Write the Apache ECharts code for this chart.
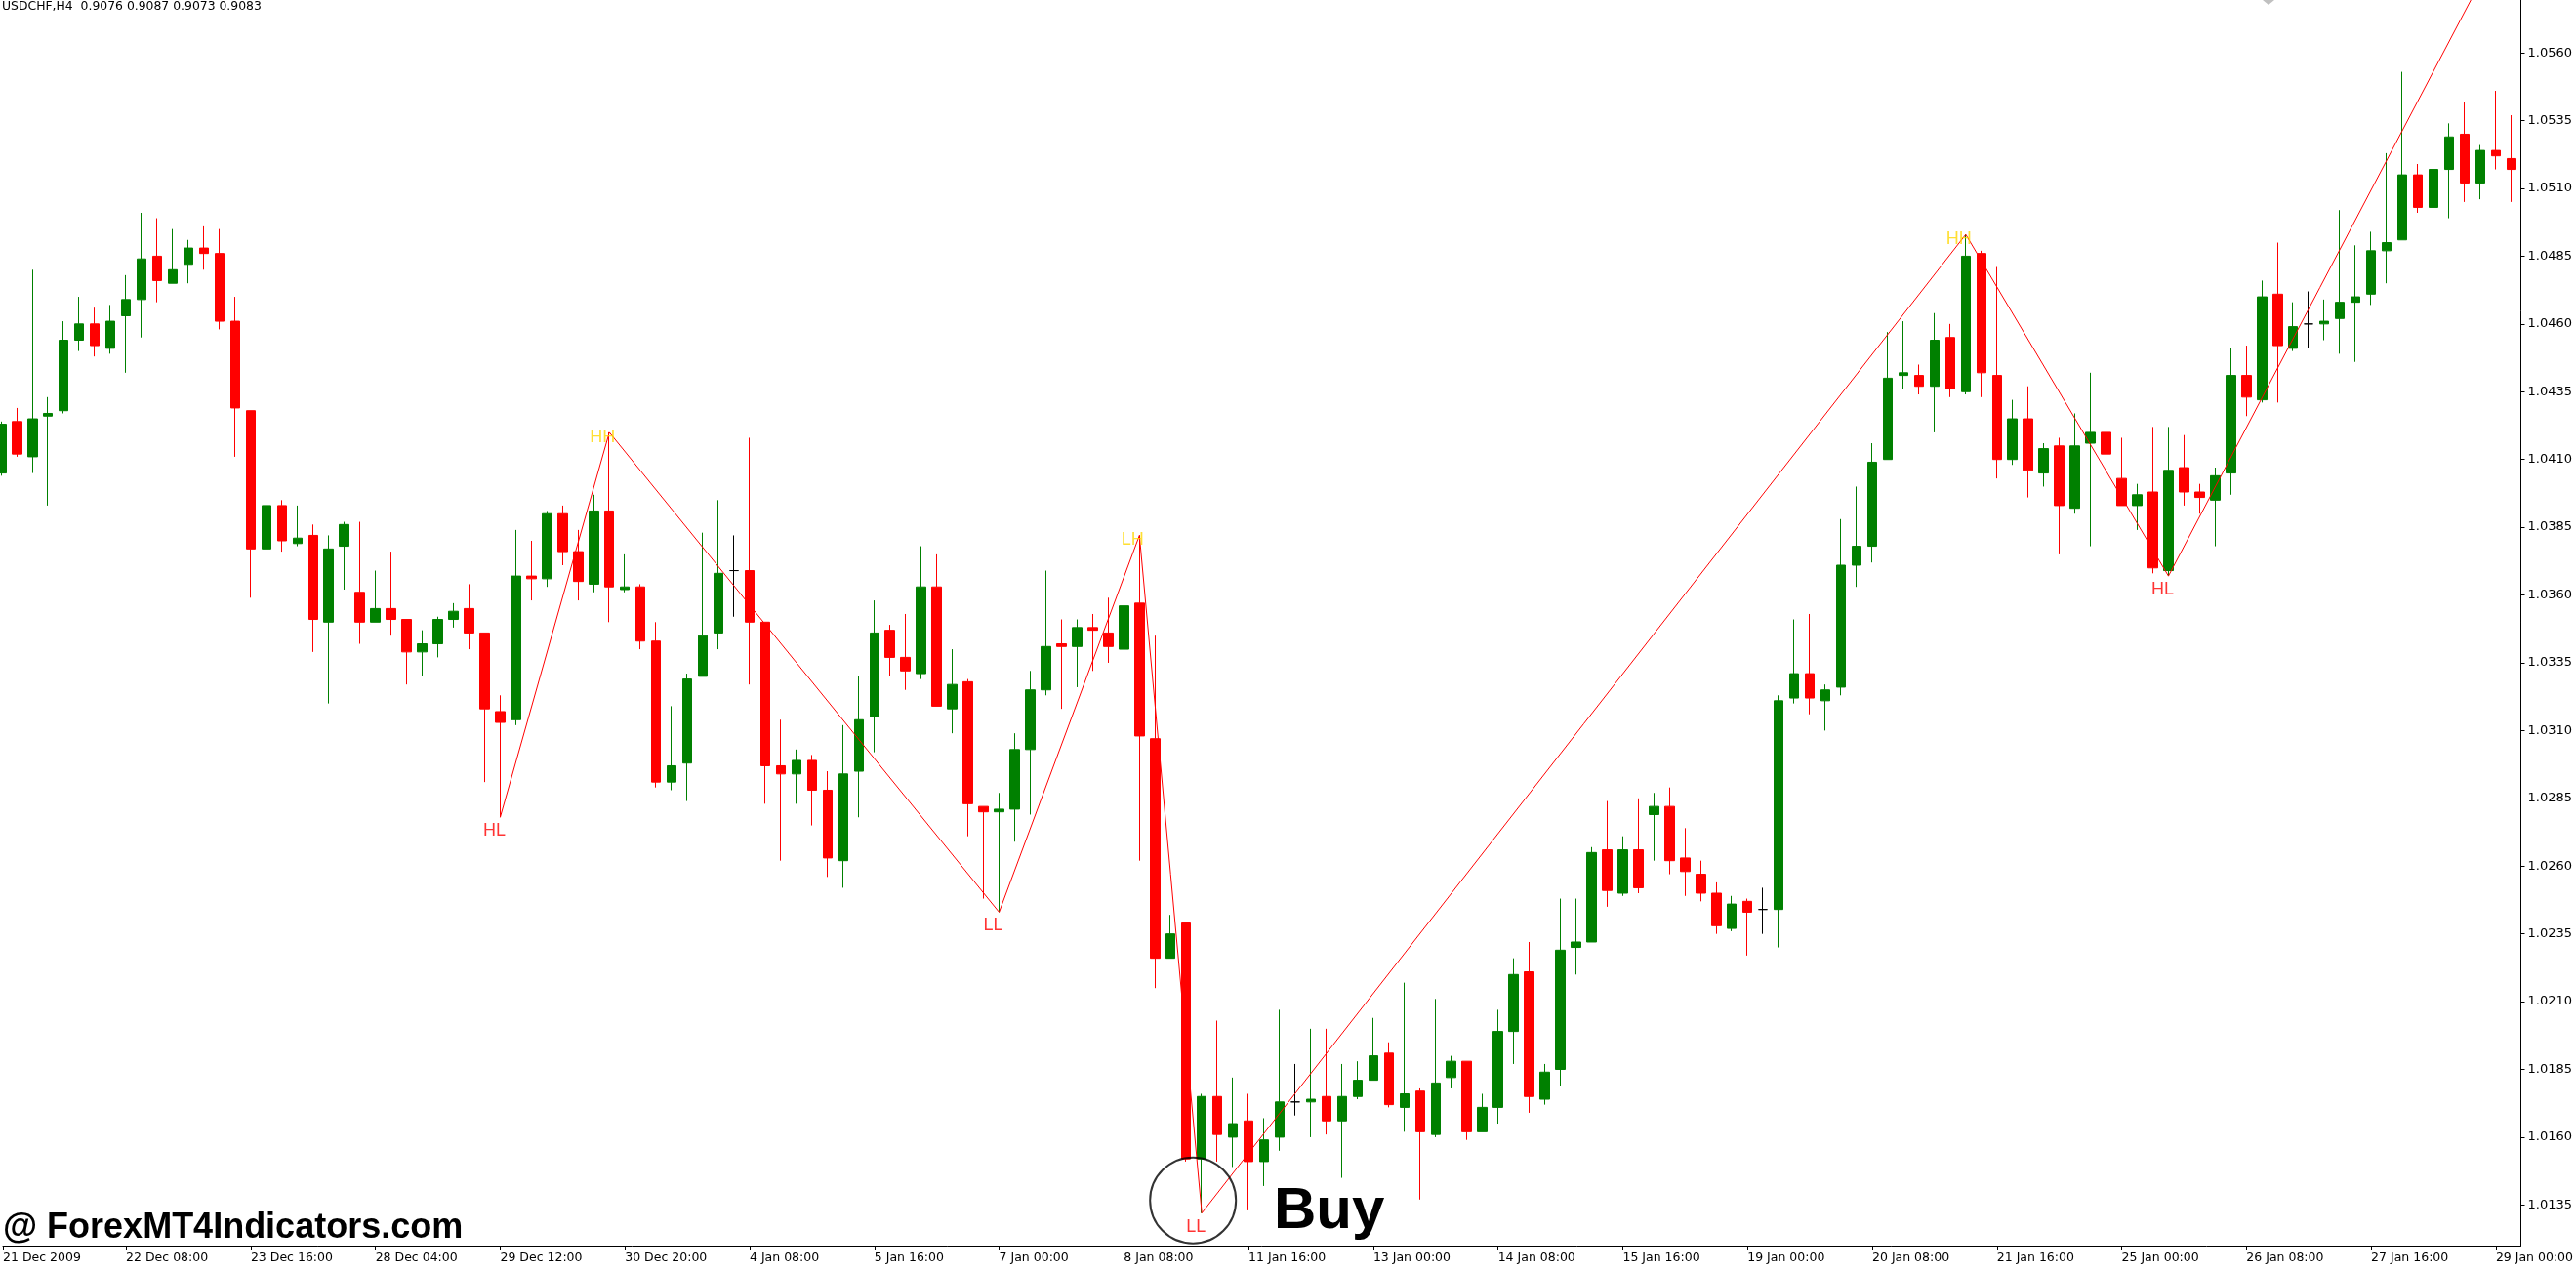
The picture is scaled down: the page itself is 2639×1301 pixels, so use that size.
<!DOCTYPE html>
<html>
<head>
<meta charset="utf-8">
<script src="https://cdn.jsdelivr.net/npm/echarts@6/dist/echarts.min.js"></script>
<style>
html,body{margin:0;padding:0;background:#ffffff;}
#c{width:2639px;height:1301px;}
</style>
</head>
<body>
<div id="c"></div>
<script>
// ---------------- DATA ----------------
const headerText = 'USDCHF,H4  0.9076 0.9087 0.9073 0.9083';
const tickBars = [0,8,16,24,32,40,48,56,64,72,80,88,96,104,112,120,128,136,144,152,160];
const tickLabels = ['21 Dec 2009','22 Dec 08:00','23 Dec 16:00','28 Dec 04:00','29 Dec 12:00','30 Dec 20:00',
  '4 Jan 08:00','5 Jan 16:00','7 Jan 00:00','8 Jan 08:00','11 Jan 16:00','13 Jan 00:00','14 Jan 08:00',
  '15 Jan 16:00','19 Jan 00:00','20 Jan 08:00','21 Jan 16:00','25 Jan 00:00','26 Jan 08:00','27 Jan 16:00','29 Jan 00:00'];
const priceTicks = [1.0135,1.0160,1.0185,1.0210,1.0235,1.0260,1.0285,1.0310,1.0335,1.0360,1.0385,1.0410,1.0435,1.0460,1.0485,1.0510,1.0535,1.0560];

const opens = [
 1.0405,1.0424,1.0411,1.0426,1.0428,1.0454,1.0460,1.0451,1.0463,1.0469,
 1.0485,1.0475,1.0482,1.0488,1.0486,1.0461,1.0428,1.0377,1.0393,1.0379,
 1.0382,1.0350,1.0378,1.0361,1.0350,1.0355,1.0351,1.0339,1.0342,1.0351,
 1.0355,1.0346,1.0317,1.0314,1.0367,1.0366,1.0390,1.0376,1.0364,1.0391,
 1.0362,1.0363,1.0343,1.0291,1.0298,1.0330,1.0346,1.0369,1.0369,1.0350,
 1.0297,1.0294,1.0299,1.0288,1.0262,1.0295,1.0315,1.0347,1.0337,1.0331,
 1.0363,1.0318,1.0328,1.0282,1.0280,1.0281,1.0303,1.0325,1.0342,1.0341,
 1.0348,1.0346,1.0340,1.0357,1.0307,1.0226,1.0239,1.0152,1.0175,1.0160,
 1.0166,1.0151,1.0160,1.0173,1.0173,1.0175,1.0166,1.0175,1.0181,1.0191,
 1.0171,1.0177,1.0161,1.0182,1.0188,1.0162,1.0171,1.0199,1.0221,1.0174,
 1.0185,1.0230,1.0232,1.0266,1.0250,1.0266,1.0279,1.0282,1.0263,1.0257,
 1.0250,1.0237,1.0247,1.0244,1.0244,1.0322,1.0331,1.0321,1.0326,1.0371,
 1.0378,1.0410,1.0441,1.0441,1.0437,1.0455,1.0435,1.0486,1.0441,1.0410,
 1.0425,1.0405,1.0415,1.0392,1.0416,1.0420,1.0403,1.0393,1.0398,1.0369,
 1.0407,1.0398,1.0395,1.0405,1.0441,1.0432,1.0471,1.0451,1.0460,1.0460,
 1.0462,1.0468,1.0471,1.0487,1.0491,1.0515,1.0503,1.0517,1.0530,1.0512,
 1.0524,1.0521];
const closes = [
 1.0423,1.0412,1.0425,1.0427,1.0454,1.0460,1.0452,1.0461,1.0469,1.0484,
 1.0476,1.0480,1.0488,1.0486,1.0461,1.0429,1.0377,1.0393,1.0380,1.0381,
 1.0351,1.0377,1.0386,1.0350,1.0355,1.0351,1.0339,1.0342,1.0351,1.0354,
 1.0346,1.0318,1.0313,1.0367,1.0366,1.0390,1.0376,1.0365,1.0391,1.0363,
 1.0363,1.0343,1.0291,1.0297,1.0329,1.0345,1.0368,1.0369,1.0350,1.0297,
 1.0294,1.0299,1.0288,1.0263,1.0294,1.0314,1.0346,1.0337,1.0332,1.0363,
 1.0319,1.0327,1.0283,1.0280,1.0281,1.0303,1.0325,1.0341,1.0341,1.0348,
 1.0347,1.0341,1.0356,1.0308,1.0226,1.0235,1.0152,1.0175,1.0161,1.0165,
 1.0151,1.0159,1.0173,1.0173,1.0174,1.0166,1.0175,1.0181,1.0190,1.0172,
 1.0176,1.0162,1.0180,1.0188,1.0162,1.0171,1.0199,1.0220,1.0175,1.0184,
 1.0229,1.0232,1.0265,1.0251,1.0266,1.0252,1.0282,1.0262,1.0258,1.0250,
 1.0238,1.0246,1.0243,1.0244,1.0321,1.0331,1.0322,1.0325,1.0371,1.0378,
 1.0409,1.0440,1.0442,1.0437,1.0454,1.0436,1.0485,1.0442,1.0410,1.0425,
 1.0406,1.0414,1.0393,1.0415,1.0420,1.0412,1.0393,1.0397,1.0370,1.0406,
 1.0398,1.0396,1.0404,1.0441,1.0433,1.0470,1.0452,1.0459,1.0460,1.0461,
 1.0468,1.0470,1.0487,1.0490,1.0515,1.0503,1.0517,1.0529,1.0512,1.0524,
 1.0522,1.0517];
const lows = [
 1.0404,1.0411,1.0405,1.0393,1.0427,1.0450,1.0448,1.0449,1.0442,1.0455,
 1.0468,1.0475,1.0475,1.0480,1.0458,1.0411,1.0359,1.0375,1.0376,1.0378,
 1.0339,1.0320,1.0362,1.0342,1.0350,1.0345,1.0327,1.0330,1.0337,1.0348,
 1.0340,1.0291,1.0278,1.0312,1.0358,1.0363,1.0371,1.0358,1.0361,1.0350,
 1.0361,1.0340,1.0289,1.0288,1.0284,1.0330,1.0340,1.0352,1.0327,1.0283,
 1.0262,1.0283,1.0275,1.0256,1.0252,1.0278,1.0302,1.0330,1.0325,1.0329,
 1.0319,1.0309,1.0271,1.0248,1.0243,1.0269,1.0279,1.0323,1.0318,1.0326,
 1.0332,1.0335,1.0328,1.0262,1.0215,1.0226,1.0151,1.0132,1.0151,1.0149,
 1.0133,1.0142,1.0155,1.0168,1.0160,1.0161,1.0145,1.0174,1.0181,1.0171,
 1.0162,1.0137,1.0160,1.0178,1.0159,1.0162,1.0165,1.0187,1.0169,1.0172,
 1.0179,1.0220,1.0232,1.0245,1.0249,1.0250,1.0262,1.0257,1.0249,1.0247,
 1.0235,1.0236,1.0227,1.0235,1.0230,1.0320,1.0316,1.0310,1.0323,1.0363,
 1.0372,1.0410,1.0436,1.0434,1.0420,1.0433,1.0434,1.0433,1.0403,1.0408,
 1.0396,1.0400,1.0375,1.0390,1.0378,1.0407,1.0393,1.0384,1.0368,1.0367,
 1.0393,1.0390,1.0378,1.0397,1.0426,1.0431,1.0431,1.0450,1.0451,1.0454,
 1.0449,1.0446,1.0467,1.0475,1.0491,1.0501,1.0476,1.0499,1.0505,1.0506,
 1.0517,1.0505];
const highs = [
 1.0424,1.0429,1.0480,1.0433,1.0461,1.0470,1.0466,1.0467,1.0478,1.0501,
 1.0499,1.0495,1.0491,1.0496,1.0495,1.0470,1.0428,1.0397,1.0395,1.0393,
 1.0386,1.0382,1.0387,1.0387,1.0369,1.0376,1.0351,1.0347,1.0352,1.0357,
 1.0364,1.0346,1.0323,1.0384,1.0380,1.0391,1.0393,1.0384,1.0397,1.0420,
 1.0375,1.0364,1.0350,1.0319,1.0331,1.0383,1.0395,1.0382,1.0418,1.0350,
 1.0314,1.0303,1.0301,1.0295,1.0312,1.0330,1.0358,1.0349,1.0353,1.0378,
 1.0375,1.0340,1.0329,1.0282,1.0287,1.0309,1.0332,1.0369,1.0351,1.0351,
 1.0353,1.0359,1.0359,1.0382,1.0345,1.0242,1.0239,1.0176,1.0203,1.0182,
 1.0176,1.0167,1.0207,1.0187,1.0200,1.0200,1.0187,1.0188,1.0204,1.0195,
 1.0217,1.0178,1.0211,1.0190,1.0188,1.0176,1.0207,1.0226,1.0232,1.0187,
 1.0248,1.0248,1.0267,1.0284,1.0271,1.0285,1.0287,1.0289,1.0274,1.0262,
 1.0254,1.0249,1.0248,1.0252,1.0323,1.0351,1.0353,1.0327,1.0388,1.0400,
 1.0416,1.0457,1.0461,1.0445,1.0464,1.0460,1.0493,1.0487,1.0481,1.0432,
 1.0437,1.0416,1.0418,1.0427,1.0442,1.0426,1.0418,1.0401,1.0422,1.0422,
 1.0419,1.0401,1.0407,1.0451,1.0452,1.0476,1.0490,1.0468,1.0472,1.0469,
 1.0502,1.0489,1.0494,1.0523,1.0553,1.0519,1.0520,1.0534,1.0542,1.0526,
 1.0546,1.0537];

const zigzagBars   = [32, 39, 64, 73, 77, 126, 139, 161];
const zigzagPrices = [1.0278, 1.0420, 1.0243, 1.0382, 1.0132, 1.0493, 1.0367, 1.0608];
const swingTexts   = ['HL', 'HH', 'LL', 'LH', 'LL', 'HH', 'HL'];
const swingIsHigh  = [false, true, false, true, false, true, false];
const buyPivot = 4;            // index of the circled LL pivot in the zigzag
const signalText = 'Buy';
const watermarkText = '@ ForexMT4Indicators.com';

// ---------------- LAYOUT ----------------
const W = 2639, H = 1301;
const PLOT_RIGHT = 2584, PLOT_BOTTOM = 1276;
const BAR_STEP = 16, FIRST_BAR_X = -1.67;
const X_MIN = -FIRST_BAR_X / BAR_STEP;
const X_MAX = X_MIN + PLOT_RIGHT / BAR_STEP;
const Y_MAX = 1.05795, Y_MIN = 1.01200;
const axisFont = 'DejaVu Sans';

const candleData = opens.map((o, i) => [i, o, closes[i], lows[i], highs[i]]);
const zigzagData = zigzagBars.map((b, i) => [b, zigzagPrices[i]]);
const highLabels = [], lowLabels = [];
swingTexts.forEach((t, i) => {
  (swingIsHigh[i] ? highLabels : lowLabels).push([zigzagBars[i], zigzagPrices[i], t]);
});
const xTickValues = tickBars.map(b => Math.max(b, X_MIN + 0.0001));

const chart = echarts.init(document.getElementById('c'), null, {renderer: 'canvas', width: W, height: H});
chart.setOption({
  animation: false,
  backgroundColor: '#ffffff',
  grid: {left: 0, top: 0, right: W - PLOT_RIGHT, bottom: H - PLOT_BOTTOM, containLabel: false},
  xAxis: {
    type: 'value', min: X_MIN, max: X_MAX,
    axisLine: {show: true, onZero: false, lineStyle: {color: '#000', width: 1}},
    axisTick: {show: true, length: 4, customValues: xTickValues, lineStyle: {color: '#000'}},
    axisLabel: {
      show: true, customValues: xTickValues, align: 'left', margin: 6,
      color: '#000', fontFamily: axisFont, fontSize: 12.5,
      formatter: v => { const i = tickBars.indexOf(Math.round(v)); return i >= 0 ? tickLabels[i] : ''; }
    },
    splitLine: {show: false}
  },
  yAxis: {
    type: 'value', position: 'right', min: Y_MIN, max: Y_MAX,
    axisLine: {show: true, lineStyle: {color: '#000', width: 1}},
    axisTick: {show: true, length: 4, customValues: priceTicks, lineStyle: {color: '#000'}},
    axisLabel: {
      show: true, customValues: priceTicks, margin: 7, color: '#000',
      fontFamily: axisFont, fontSize: 13, formatter: v => v.toFixed(4)
    },
    splitLine: {show: false}
  },
  series: [
    {
      type: 'candlestick', data: candleData, encode: {x: 0, y: [1, 2, 3, 4]},
      barWidth: 10, clip: true, z: 2,
      itemStyle: {color: '#008000', color0: '#ff0000', borderColor: '#008000', borderColor0: '#ff0000',
                  borderColorDoji: '#000000', borderWidth: 1},
      emphasis: {disabled: true}
    },
    {
      type: 'line', data: zigzagData, symbol: 'none', clip: true, z: 4,
      lineStyle: {color: '#ff0000', width: 1}, emphasis: {disabled: true}
    },
    {
      type: 'scatter', data: highLabels, symbolSize: 1, z: 5,
      itemStyle: {color: 'rgba(0,0,0,0)'},
      label: {show: true, position: 'inside', offset: [-7, 5], formatter: p => p.data[2],
              color: '#FFD700', fontFamily: 'Liberation Sans', fontSize: 18},
      emphasis: {disabled: true}
    },
    {
      type: 'scatter', data: lowLabels, symbolSize: 1, z: 5,
      itemStyle: {color: 'rgba(0,0,0,0)'},
      label: {show: true, position: 'inside', offset: [-6, 14], formatter: p => p.data[2],
              color: '#ff0000', fontFamily: 'Liberation Sans', fontSize: 18},
      emphasis: {disabled: true}
    },
    {
      type: 'scatter', data: [zigzagData[buyPivot]], symbol: 'circle', symbolSize: 88,
      symbolOffset: [-9, -13], z: 6, clip: false,
      itemStyle: {color: 'rgba(0,0,0,0)', borderColor: '#000', borderWidth: 2},
      emphasis: {disabled: true}
    }
  ],
  graphic: [
    {type: 'text', left: 2, top: 1, z: 10,
     style: {text: headerText, fill: '#000', font: '12.4px "DejaVu Sans"'}},
    {type: 'text', x: 1305, y: 1241, z: 10,
     style: {text: signalText, fill: '#000', font: 'bold 60px "Liberation Sans"', verticalAlign: 'middle'}},
    {type: 'text', x: 3, y: 1258, z: 10,
     style: {text: watermarkText, fill: '#000', font: 'bold 36px "Liberation Sans"', verticalAlign: 'middle'}},
    {type: 'polygon', z: 10, shape: {points: [[2318, 0], [2330, 0], [2324, 5]]}, style: {fill: '#c0c0c0'}}
  ]
});
</script>
</body>
</html>
